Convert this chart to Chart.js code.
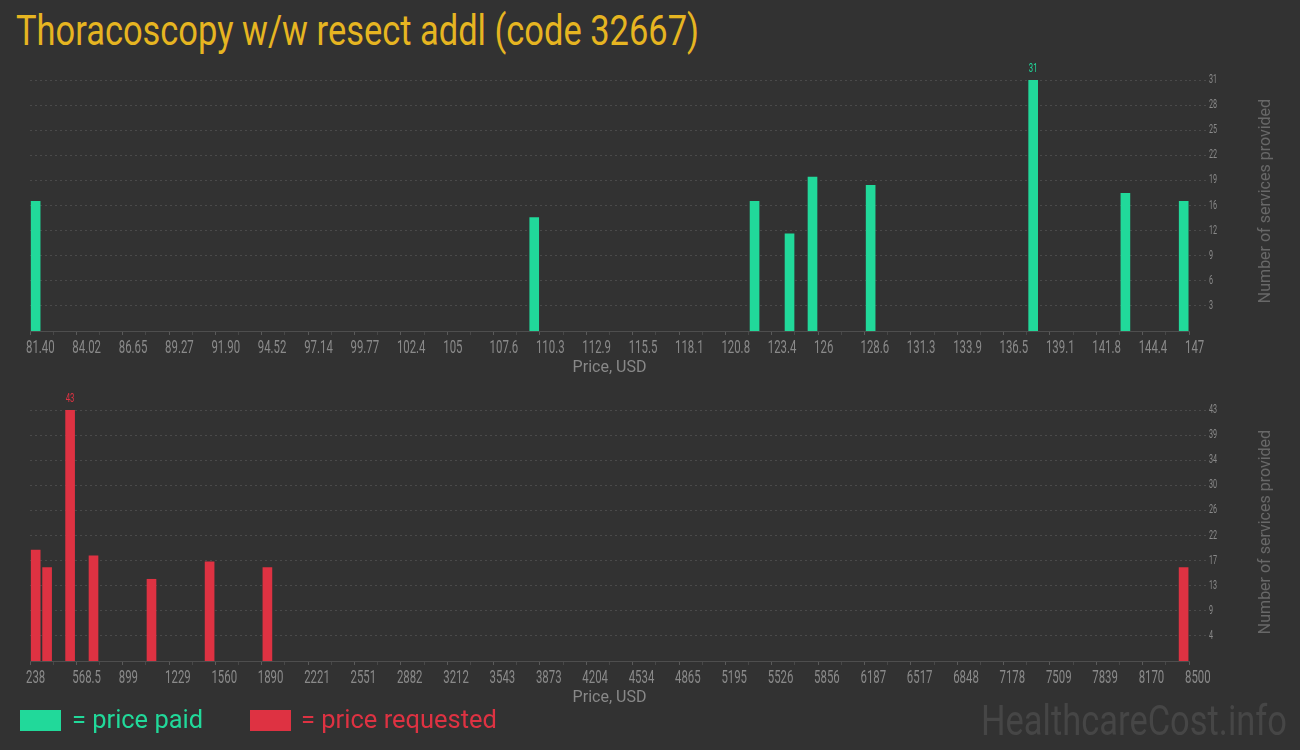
<!DOCTYPE html>
<html>
<head>
<meta charset="utf-8">
<script src="https://cdn.jsdelivr.net/npm/chart.js@4.4.1/dist/chart.umd.min.js"></script>
<style>
  body { margin: 0; background: #323232; width: 1300px; height: 750px; overflow: hidden; position: relative;
         font-family: Roboto, sans-serif; }
  .fit { position: absolute; white-space: nowrap; transform-origin: 0 0; }
  #title { left: 16px; top: 10px; font-size: 42px; line-height: 42px; color: #e6b521; }
  canvas { position: absolute; left: 0; }
  .ytitle { position: absolute; left: 1264px; font-size: 16px; color: #686868;
            white-space: nowrap; transform: translate(-50%, -50%) rotate(-90deg); }
  .box { position: absolute; top: 710px; width: 41px; height: 21px; }
  .leg { top: 706px; font-size: 26px; line-height: 26px; }
  #mark { left: 981px; top: 700px; font-size: 42px; line-height: 42px; color: #464646; }
</style>
</head>
<body>
<div id="title" class="fit" data-w="683">Thoracoscopy w/w resect addl (code 32667)</div>
<canvas id="paid" width="1300" height="330" style="top:55px"></canvas>
<canvas id="requested" width="1300" height="330" style="top:385px"></canvas>
<div class="ytitle" style="top:201px">Number of services provided</div>
<div class="ytitle" style="top:532px">Number of services provided</div>
<div class="box" style="left:20px; background:#21d99a"></div>
<div class="leg fit" data-w="131" style="left:72px; color:#21d99a">= price paid</div>
<div class="box" style="left:250px; background:#de3242"></div>
<div class="leg fit" data-w="196" style="left:301px; color:#de3242">= price requested</div>
<div id="mark" class="fit" data-w="306">HealthcareCost.info</div>
<script>
// prix payés (en haut) et prix demandés (en bas)
const paidPrices = [81.72, 109.94, 122.41, 124.39, 125.69, 128.98, 138.18, 143.40, 146.70];
const paidCounts = [16, 14, 16, 12, 19, 18, 31, 17, 16];
const paidXLabels = ['81.40', '84.02', '86.65', '89.27', '91.90', '94.52', '97.14', '99.77', '102.4', '105',
  '107.6', '110.3', '112.9', '115.5', '118.1', '120.8', '123.4', '126', '128.6', '131.3', '133.9', '136.5',
  '139.1', '141.8', '144.4', '147'];
const paidYLabels = ['3', '6', '9', '12', '16', '19', '22', '25', '28', '31'];

const requestedPrices = [278.6, 359.9, 523.9, 690.7, 1104.1, 1518.3, 1930.3, 8461.6];
const requestedCounts = [19, 16, 43, 18, 14, 17, 16, 16];
const requestedXLabels = ['238', '568.5', '899', '1229', '1560', '1890', '2221', '2551', '2882', '3212',
  '3543', '3873', '4204', '4534', '4865', '5195', '5526', '5856', '6187', '6517', '6848', '7178', '7509',
  '7839', '8170', '8500'];
const requestedYLabels = ['4', '9', '13', '17', '22', '26', '30', '34', '39', '43'];

// textos HTML comprimidos a lo ancho como en el original
document.querySelectorAll('.fit').forEach(el => {
  const w = el.getBoundingClientRect().width;
  el.style.transform = 'scaleX(' + (el.dataset.w / w) + ')';
});

// texto estrecho en el canvas
function squeezed(ctx, text, x, y, sx) {
  ctx.save();
  ctx.translate(x, y);
  ctx.scale(sx, 1);
  ctx.fillText(text, 0, 0);
  ctx.restore();
}

// etiquetas de los ejes con fuente condensada + valor máximo encima de la barra
const narrowText = {
  id: 'narrowText',
  afterDraw(chart) {
    const ctx = chart.ctx;
    const xs = chart.scales.x, ys = chart.scales.y;
    ctx.save();
    ctx.fillStyle = '#8a8a8a';
    ctx.textAlign = 'left';
    ctx.textBaseline = 'alphabetic';
    ctx.font = '19px Roboto';
    xs.ticks.forEach(t => {
      if (t.label) squeezed(ctx, t.label, xs.getPixelForValue(t.value) - 4, xs.top + 21.5, 0.6);
    });
    ctx.font = '12px Roboto';
    ctx.textBaseline = 'middle';
    ys.ticks.forEach(t => squeezed(ctx, t.label, ys.left + 20, ys.getPixelForValue(t.value), 0.6));

    const ds = chart.data.datasets[0];
    let iMax = 0;
    ds.data.forEach((d, i) => { if (d.y > ds.data[iMax].y) iMax = i; });
    const bar = chart.getDatasetMeta(0).data[iMax];
    ctx.fillStyle = ds.backgroundColor;
    ctx.font = '13px Roboto';
    ctx.textAlign = 'center';
    ctx.textBaseline = 'alphabetic';
    squeezed(ctx, String(ds.data[iMax].y), bar.x, bar.y - 8, 0.6);
    ctx.restore();
  }
};

function drawHist(id, prices, counts, xLabels, yLabels, color) {
  const xMin = parseFloat(xLabels[0]);
  const xMax = parseFloat(xLabels[xLabels.length - 1]);
  const yMax = Math.max(...counts);
  const step = (xMax - xMin) / (xLabels.length - 1);

  return new Chart(document.getElementById(id), {
    type: 'bar',
    data: {
      datasets: [{
        data: prices.map((p, i) => ({ x: p, y: counts[i] })),
        backgroundColor: color,
        barThickness: 9
      }]
    },
    options: {
      responsive: false,
      animation: false,
      layout: { padding: { left: 30, top: 25, right: 0, bottom: 0 } },
      plugins: { legend: { display: false }, tooltip: { enabled: false } },
      scales: {
        x: {
          type: 'linear',
          min: xMin,
          max: xMax,
          offset: false,
          afterBuildTicks: s => {
            const t = [];
            for (let i = 0; i <= (xLabels.length - 1) * 2; i++) t.push({ value: xMin + i * step / 2 });
            s.ticks = t;
          },
          afterFit: s => { s.height = 54; },
          ticks: {
            display: false,
            autoSkip: false,
            maxRotation: 0,
            callback: (v, i) => i % 2 === 0 ? xLabels[i / 2] : ''
          },
          grid: {
            offset: false,
            drawOnChartArea: false,
            drawTicks: true,
            tickLength: 4,
            tickColor: c => c.index % 2 === 0 ? '#5a5a5a' : '#484848'
          },
          border: { display: true, color: '#4e4e4e' },
          title: {
            display: true,
            text: 'Price, USD',
            color: '#888',
            font: { family: 'Roboto', size: 16 },
            padding: { top: 0, bottom: 7 }
          }
        },
        y: {
          position: 'right',
          min: 0,
          max: yMax,
          afterBuildTicks: s => {
            s.ticks = yLabels.map((l, i) => ({ value: yMax * (i + 1) / yLabels.length }));
          },
          afterFit: s => { s.width = 111; },
          ticks: {
            display: false,
            callback: (v, i) => yLabels[i]
          },
          grid: {
            color: '#4a4a4a',
            tickLength: 17,
            tickColor: '#4a4a4a',
            tickBorderDash: [2, 3]
          },
          border: { display: false, dash: [2, 3] }
        }
      }
    },
    plugins: [narrowText]
  });
}

drawHist('paid', paidPrices, paidCounts, paidXLabels, paidYLabels, '#21d99a');
drawHist('requested', requestedPrices, requestedCounts, requestedXLabels, requestedYLabels, '#de3242');
</script>
</body>
</html>
